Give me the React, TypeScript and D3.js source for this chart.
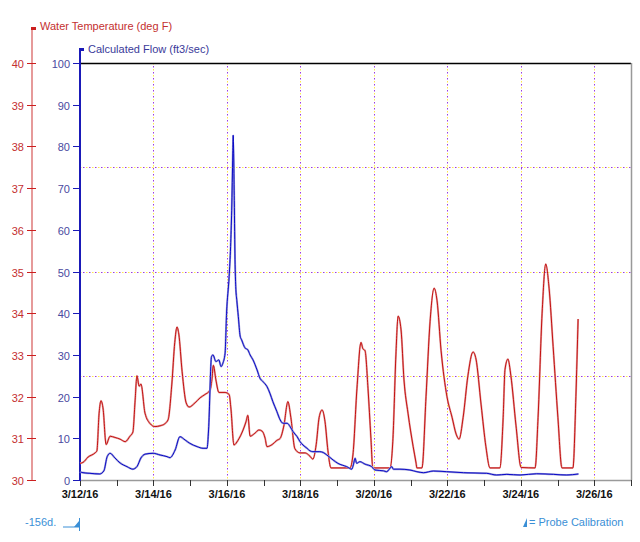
import { useEffect, useRef } from 'react';
import * as d3 from 'd3';

// [day of March 2016 (fractional), deg F]
const tempReadings: [number, number][] = [
  [12.0, 30.4], [12.08, 30.42], [12.22, 30.55], [12.41, 30.65], [12.46, 30.7], [12.52, 31.6],
  [12.57, 31.9], [12.63, 31.7], [12.71, 30.85], [12.82, 31.05], [12.95, 31.02], [13.09, 30.98],
  [13.23, 30.92], [13.36, 31.05], [13.44, 31.15], [13.5, 31.9], [13.55, 32.5], [13.61, 32.25],
  [13.66, 32.3], [13.77, 31.6], [13.91, 31.35], [14.04, 31.28], [14.18, 31.3], [14.31, 31.35],
  [14.4, 31.45], [14.5, 32.3], [14.58, 33.3], [14.64, 33.67], [14.69, 33.5], [14.78, 32.6],
  [14.89, 31.85], [14.97, 31.75], [15.13, 31.85], [15.27, 31.97], [15.4, 32.05], [15.54, 32.15],
  [15.59, 32.4], [15.63, 32.75], [15.7, 32.4], [15.78, 32.1], [15.95, 32.1], [16.06, 32.05],
  [16.11, 31.7], [16.19, 30.84], [16.3, 30.95], [16.44, 31.2], [16.52, 31.4], [16.57, 31.55],
  [16.63, 31.05], [16.76, 31.12], [16.87, 31.2], [16.96, 31.17], [17.04, 31.0], [17.09, 30.8],
  [17.23, 30.85], [17.36, 30.95], [17.45, 31.0], [17.55, 31.3], [17.66, 31.88], [17.74, 31.5],
  [17.85, 30.75], [17.99, 30.65], [18.13, 30.65], [18.26, 30.57], [18.34, 30.5], [18.43, 30.85],
  [18.51, 31.5], [18.59, 31.68], [18.67, 31.4], [18.75, 30.7], [18.83, 30.29], [19.35, 30.29],
  [19.43, 30.6], [19.54, 32.2], [19.65, 33.3], [19.7, 33.15], [19.76, 33.1], [19.84, 32.2],
  [19.92, 31.0], [19.97, 30.29], [20.44, 30.29], [20.52, 31.0], [20.6, 33.0], [20.66, 33.93],
  [20.74, 33.6], [20.82, 32.4], [20.93, 31.6], [21.07, 30.8], [21.15, 30.4], [21.17, 30.29],
  [21.31, 30.29], [21.42, 32.0], [21.53, 33.8], [21.64, 34.6], [21.72, 34.3], [21.83, 33.1],
  [21.99, 32.0], [22.13, 31.5], [22.24, 31.1], [22.32, 30.98], [22.43, 31.5], [22.56, 32.5],
  [22.7, 33.07], [22.78, 32.9], [22.92, 31.8], [23.05, 30.8], [23.16, 30.29], [23.43, 30.29],
  [23.52, 31.5], [23.57, 32.65], [23.65, 32.9], [23.73, 32.5], [23.87, 31.3], [24.01, 30.3],
  [24.39, 30.29], [24.47, 31.5], [24.58, 34.0], [24.68, 35.18], [24.77, 34.6], [24.88, 33.2],
  [25.01, 31.5], [25.12, 30.29], [25.42, 30.29], [25.5, 32.0], [25.56, 33.86],
];

// [day of March 2016 (fractional), ft3/sec]
const flowReadings: [number, number][] = [
  [12.0, 2.0], [12.05, 1.8], [12.27, 1.6], [12.54, 1.45], [12.65, 2.2], [12.74, 5.6], [12.82, 6.4],
  [12.95, 5.3], [13.09, 4.1], [13.28, 3.2], [13.44, 2.6], [13.55, 3.2], [13.66, 5.3], [13.77, 6.2],
  [13.99, 6.4], [14.18, 6.0], [14.37, 5.6], [14.45, 5.35], [14.59, 7.2], [14.72, 10.4], [14.86, 9.6],
  [14.99, 8.8], [15.19, 8.0], [15.35, 7.6], [15.46, 7.6], [15.5, 12], [15.58, 29.6], [15.62, 30],
  [15.7, 28.4], [15.78, 28.8], [15.84, 27.2], [15.89, 28], [15.95, 30.4], [15.99, 40], [16.06, 48.8],
  [16.1, 56], [16.13, 64.7], [16.16, 78.4], [16.17, 82.7], [16.2, 67], [16.22, 52.8], [16.24, 46.4],
  [16.27, 43], [16.31, 39.2], [16.36, 34.5], [16.4, 33.6], [16.49, 31.7], [16.57, 31.2], [16.63, 30],
  [16.71, 28.8], [16.82, 26.4], [16.9, 24.4], [16.98, 23.6], [17.09, 22.4], [17.17, 20.8],
  [17.25, 18.8], [17.36, 16.4], [17.45, 14.4], [17.53, 13.6], [17.64, 13.6], [17.72, 12.8],
  [17.8, 11.6], [17.91, 10.4], [17.99, 9.2], [18.07, 8.4], [18.18, 7.6], [18.26, 7.0], [18.34, 6.8],
  [18.53, 6.8], [18.62, 6.6], [18.72, 6.0], [18.89, 4.8], [19.02, 4.0], [19.26, 3.2], [19.4, 2.6],
  [19.44, 3.6], [19.49, 5.2], [19.53, 4.0], [19.62, 4.4], [19.76, 3.8], [19.94, 3.2], [20.03, 2.4],
  [20.26, 2.2], [20.35, 2.0], [20.49, 3.2], [20.53, 2.6], [20.71, 2.6], [20.98, 2.4], [21.17, 2.0],
  [21.35, 1.75], [21.62, 2.15], [21.98, 2.0], [22.44, 1.75], [23.07, 1.6], [23.34, 1.2],
  [23.62, 1.35], [23.98, 1.2], [24.43, 1.5], [24.89, 1.35], [25.25, 1.2], [25.57, 1.45],
];

const flowTicks = [0, 10, 20, 30, 40, 50, 60, 70, 80, 90, 100];
const tempTicks = [30, 31, 32, 33, 34, 35, 36, 37, 38, 39, 40];
const flowGridValues = [25, 50, 75];
const labelDays = [12, 14, 16, 18, 20, 22, 24, 26];
const minorDays = d3.range(12, 28);

const W = 640;
const H = 542;
const plot = { left: 80, right: 631, top: 63, bottom: 480 };

const base = new Date(2016, 2, 12).getTime();
const dayToDate = (day: number) => new Date(base + (day - 12) * 864e5);

export default function App() {
  const svgRef = useRef<SVGSVGElement>(null);

  useEffect(() => {
    if (!svgRef.current) return;
    const svg = d3.select(svgRef.current);
    svg.selectAll('*').remove();

    const x = d3.scaleTime()
      .domain([dayToDate(12), dayToDate(27)])
      .range([plot.left, plot.right]);
    const yFlow = d3.scaleLinear().domain([0, 100]).range([plot.bottom, plot.top]);
    const yTemp = d3.scaleLinear().domain([30, 40]).range([plot.bottom, plot.top]);
    const fmt = d3.timeFormat('%-m/%-d/%y');
    const font = 'Liberation Sans, Arial, sans-serif';

    // dotted two-tone grid
    const grid = svg.append('g');
    const gridLine = (x1: number, y1: number, x2: number, y2: number) => {
      grid.append('line').attr('x1', x1).attr('y1', y1).attr('x2', x2).attr('y2', y2)
        .attr('stroke', '#ffe94a').attr('stroke-width', 1).attr('stroke-dasharray', '1.5 4.5');
      grid.append('line').attr('x1', x1).attr('y1', y1).attr('x2', x2).attr('y2', y2)
        .attr('stroke', '#9a3ce0').attr('stroke-width', 1).attr('stroke-dasharray', '1.5 4.5')
        .attr('stroke-dashoffset', 3);
    };
    labelDays.forEach(d => {
      const px = Math.round(x(dayToDate(d))) + 0.5;
      gridLine(px, plot.top, px, plot.bottom);
    });
    flowGridValues.forEach(v => {
      const py = Math.round(yFlow(v)) + 0.5;
      gridLine(plot.left, py, plot.right, py);
    });

    // frame
    svg.append('line').attr('x1', plot.left).attr('x2', plot.right)
      .attr('y1', plot.top + 0.5).attr('y2', plot.top + 0.5)
      .attr('stroke', '#000').attr('stroke-width', 1.5);
    svg.append('line').attr('x1', plot.right + 0.5).attr('x2', plot.right + 0.5)
      .attr('y1', plot.top).attr('y2', plot.bottom)
      .attr('stroke', '#999').attr('stroke-width', 1.5);

    // bottom axis
    const xAxis = svg.append('g');
    xAxis.append('line').attr('x1', plot.left).attr('x2', plot.right)
      .attr('y1', plot.bottom + 0.5).attr('y2', plot.bottom + 0.5)
      .attr('stroke', '#9a9a9a').attr('stroke-width', 1.5);
    minorDays.forEach(d => {
      const px = Math.round(x(dayToDate(d))) + 0.5;
      xAxis.append('line').attr('x1', px).attr('x2', px)
        .attr('y1', plot.bottom).attr('y2', plot.bottom + 6)
        .attr('stroke', '#333').attr('stroke-width', 1);
    });
    labelDays.forEach(d => {
      xAxis.append('text')
        .attr('x', x(dayToDate(d)))
        .attr('y', 498)
        .attr('text-anchor', 'middle')
        .attr('font-family', font)
        .attr('font-size', 11)
        .attr('font-weight', 'bold')
        .attr('fill', '#111')
        .text(fmt(dayToDate(d)));
    });

    // temperature axis (red, outer)
    const tAxisX = 32;
    const tAxis = svg.append('g');
    tAxis.append('line').attr('x1', tAxisX).attr('x2', tAxisX)
      .attr('y1', 27).attr('y2', plot.bottom + 1)
      .attr('stroke', '#e69a9a').attr('stroke-width', 2);
    tAxis.append('rect').attr('x', tAxisX - 1).attr('y', 27).attr('width', 5).attr('height', 3)
      .attr('fill', '#cc1f1f');
    tAxis.append('text').attr('x', 40).attr('y', 30)
      .attr('font-family', font).attr('font-size', 11).attr('fill', '#c43030')
      .text('Water Temperature (deg F)');
    tempTicks.forEach(t => {
      const py = Math.round(yTemp(t)) + 0.5;
      tAxis.append('line').attr('x1', tAxisX - 5).attr('x2', tAxisX + 4)
        .attr('y1', py).attr('y2', py)
        .attr('stroke', '#cc1f1f').attr('stroke-width', 1);
      tAxis.append('text').attr('x', 24).attr('y', py + 4)
        .attr('text-anchor', 'end')
        .attr('font-family', font).attr('font-size', 11).attr('fill', '#c43030')
        .text(t);
    });

    // flow axis (blue, inner)
    const fAxis = svg.append('g');
    fAxis.append('line').attr('x1', plot.left).attr('x2', plot.left)
      .attr('y1', 49).attr('y2', plot.bottom + 1)
      .attr('stroke', '#1a1ab8').attr('stroke-width', 2);
    fAxis.append('rect').attr('x', plot.left - 1).attr('y', 48).attr('width', 5).attr('height', 3)
      .attr('fill', '#1a1ab8');
    fAxis.append('text').attr('x', 88).attr('y', 53)
      .attr('font-family', font).attr('font-size', 11).attr('fill', '#3a3a9a')
      .text('Calculated Flow (ft3/sec)');
    flowTicks.forEach(f => {
      const py = Math.round(yFlow(f)) + 0.5;
      fAxis.append('line').attr('x1', plot.left - 7).attr('x2', plot.left)
        .attr('y1', py).attr('y2', py)
        .attr('stroke', '#1a1ab8').attr('stroke-width', 1);
      fAxis.append('text').attr('x', 70).attr('y', py + 4)
        .attr('text-anchor', 'end')
        .attr('font-family', font).attr('font-size', 11).attr('fill', '#4a4aa0')
        .text(f);
    });

    // series
    const tempLine = d3.line<[number, number]>()
      .x(d => x(dayToDate(d[0])))
      .y(d => yTemp(d[1]))
      .curve(d3.curveMonotoneX);
    const flowLine = d3.line<[number, number]>()
      .x(d => x(dayToDate(d[0])))
      .y(d => yFlow(d[1]))
      .curve(d3.curveMonotoneX);

    svg.append('path').datum(tempReadings)
      .attr('fill', 'none').attr('stroke', '#e4a4a4').attr('stroke-width', 2)
      .attr('stroke-linejoin', 'round').attr('d', tempLine);
    svg.append('path').datum(tempReadings)
      .attr('fill', 'none').attr('stroke', '#c00000').attr('stroke-width', 0.9)
      .attr('stroke-linejoin', 'round').attr('d', tempLine);

    svg.append('path').datum(flowReadings)
      .attr('fill', 'none').attr('stroke', '#a0a0d8').attr('stroke-width', 2)
      .attr('stroke-linejoin', 'round').attr('d', flowLine);
    svg.append('path').datum(flowReadings)
      .attr('fill', 'none').attr('stroke', '#0a0ac8').attr('stroke-width', 1)
      .attr('stroke-linejoin', 'round').attr('d', flowLine);

    // footer notes
    const footColor = '#3b8fd6';
    svg.append('text').attr('x', 25).attr('y', 526)
      .attr('font-family', font).attr('font-size', 11).attr('fill', footColor)
      .text('-156d.');
    svg.append('path')
      .attr('d', 'M63,527 L74,527 L79,521 L79,527 Z')
      .attr('fill', footColor);
    svg.append('line').attr('x1', 63).attr('x2', 79).attr('y1', 527).attr('y2', 527)
      .attr('stroke', footColor).attr('stroke-width', 1);
    svg.append('line').attr('x1', 79.5).attr('x2', 79.5).attr('y1', 518).attr('y2', 531)
      .attr('stroke', footColor).attr('stroke-width', 1);
    svg.append('path')
      .attr('d', 'M523,527 L527,518 L527,527 Z')
      .attr('fill', footColor);
    svg.append('text').attr('x', 529).attr('y', 526)
      .attr('font-family', font).attr('font-size', 11).attr('fill', footColor)
      .text('= Probe Calibration');
  }, []);

  return (
    <svg
      ref={svgRef}
      width={W}
      height={H}
      style={{ position: 'absolute', left: 0, top: 0, background: '#fff' }}
    />
  );
}
